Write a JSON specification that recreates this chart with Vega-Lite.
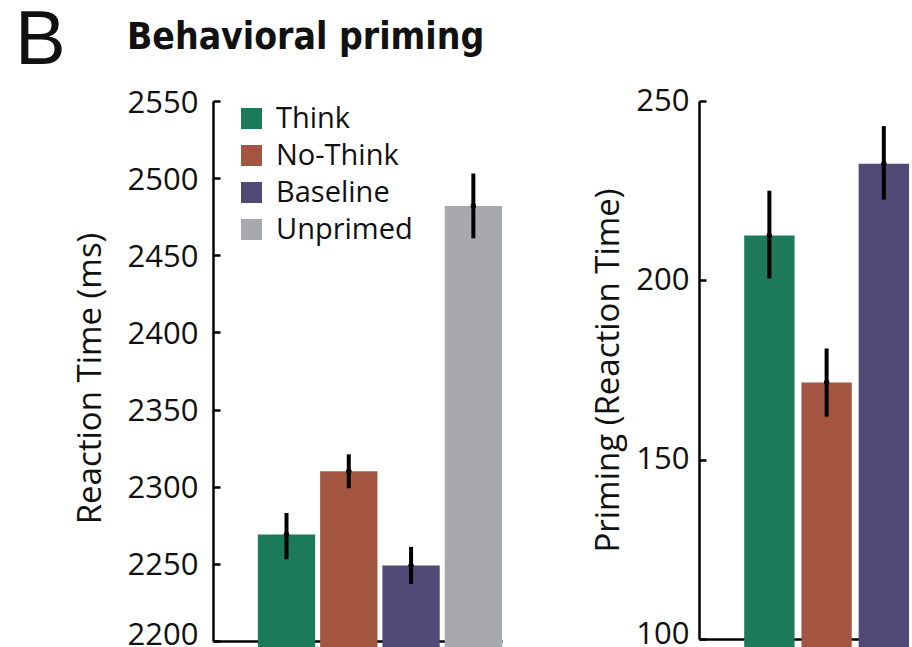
{
  "$schema": "https://vega.github.io/schema/vega-lite/v6.json",
  "background": "white",
  "padding": {"left": 15, "top": 3, "right": 0, "bottom": 0},
  "config": {"view": {"stroke": null}, "font": "Open Sans"},
  "resolve": {"legend": {"color": "independent"}},
  "bounds": "flush",
  "spacing": 197,
  "hconcat": [
    {
      "width": 289,
      "height": 540,
      "title": {"text": "B", "anchor": "start", "frame": "group", "dx": -198, "offset": -53, "baseline": "alphabetic", "fontSize": 76, "font": "Liberation Sans", "fontWeight": "normal", "color": "#111"},
      "data": {"values": [
        {"condition": "Think", "rt": 2269, "lo": 2253, "hi": 2283},
        {"condition": "No-Think", "rt": 2310, "lo": 2299, "hi": 2321},
        {"condition": "Baseline", "rt": 2249, "lo": 2237, "hi": 2261},
        {"condition": "Unprimed", "rt": 2482, "lo": 2461, "hi": 2503}
      ]},
      "layer": [
        {
          "mark": {"type": "bar"},
          "encoding": {
            "x": {"field": "condition", "type": "nominal", "sort": ["Think", "No-Think", "Baseline", "Unprimed"],
                  "scale": {"paddingInner": 0.08, "paddingOuter": 0.36, "align": 1},
                  "axis": {"labels": false, "ticks": false, "title": null, "domainWidth": 2.5, "domainColor": "#000"}},
            "y": {"field": "rt", "type": "quantitative",
                  "scale": {"domain": [2200, 2550], "zero": false, "nice": false},
                  "axis": {"title": "Reaction Time (ms)", "values": [2200, 2250, 2300, 2350, 2400, 2450, 2500, 2550], "format": "d",
                           "tickSize": -7, "tickWidth": 2.5, "tickColor": "#000", "domainWidth": 2.5, "domainColor": "#000",
                           "labelFontSize": 31, "labelPadding": 22, "labelColor": "#111", "labelFont": "Open Sans",
                           "labelOffset": {"condition": {"test": "datum.value == 2200", "value": -6}, "value": 2},
                           "titleFontSize": 33, "titleFontWeight": "normal", "titlePadding": 20, "titleColor": "#111", "titleFont": "Open Sans",
                           "titleY": 277,
                           "grid": false}},
            "color": {"field": "condition", "type": "nominal",
                      "scale": {"domain": ["Think", "No-Think", "Baseline", "Unprimed"], "range": ["#1c7a5a", "#a35541", "#514a77", "#a7a9ac"]},
                      "legend": {"orient": "none", "legendX": 24, "legendY": 3, "title": null, "symbolType": "square", "symbolSize": 441,
                                 "symbolStrokeWidth": 0, "symbolOpacity": 1, "labelFontSize": 29, "labelFont": "Open Sans", "labelColor": "#111",
                                 "rowPadding": 7, "labelOffset": 10}}
          }
        },
        {
          "mark": {"type": "rule", "strokeWidth": 4, "color": "#000"},
          "encoding": {
            "x": {"field": "condition", "type": "nominal", "sort": ["Think", "No-Think", "Baseline", "Unprimed"]},
            "y": {"field": "lo", "type": "quantitative"},
            "y2": {"field": "hi"}
          }
        },
        {
          "mark": {"type": "point", "filled": true, "color": "#000", "size": 30, "opacity": 1},
          "encoding": {
            "x": {"field": "condition", "type": "nominal", "sort": ["Think", "No-Think", "Baseline", "Unprimed"]},
            "y": {"field": "rt", "type": "quantitative"}
          }
        }
      ]
    },
    {
      "width": 210,
      "height": 538,
      "title": {"text": "Behavioral priming", "anchor": "start", "frame": "group", "dx": -572, "offset": -1, "baseline": "alphabetic", "fontSize": 37, "font": "'DejaVu Sans Condensed', 'Liberation Sans Narrow', Roboto, sans-serif", "fontWeight": "bold", "color": "#111"},
      "data": {"values": [
        {"condition": "Think", "priming": 212.5, "lo": 200.5, "hi": 225},
        {"condition": "No-Think", "priming": 171.5, "lo": 162, "hi": 181},
        {"condition": "Baseline", "priming": 232.5, "lo": 222.5, "hi": 243}
      ]},
      "layer": [
        {
          "mark": {"type": "bar"},
          "encoding": {
            "x": {"field": "condition", "type": "nominal", "sort": ["Think", "No-Think", "Baseline"],
                  "scale": {"paddingInner": 0.12, "paddingOuter": 0.395, "align": 1},
                  "axis": {"labels": false, "ticks": false, "title": null, "domainWidth": 2.5, "domainColor": "#000"}},
            "y": {"field": "priming", "type": "quantitative",
                  "scale": {"domain": [100, 250], "zero": false, "nice": false},
                  "axis": {"title": "Priming (Reaction Time)", "values": [100, 150, 200, 250], "format": "d",
                           "tickSize": -7, "tickWidth": 2.5, "tickColor": "#000", "domainWidth": 2.5, "domainColor": "#000",
                           "labelFontSize": 31, "labelPadding": 17, "labelColor": "#111", "labelFont": "Open Sans",
                           "labelOffset": {"condition": {"test": "datum.value == 100", "value": -5}, "value": 0},
                           "titleFontSize": 33, "titleFontWeight": "normal", "titlePadding": 10, "titleColor": "#111", "titleFont": "Open Sans",
                           "grid": false}},
            "color": {"field": "condition", "type": "nominal",
                      "scale": {"domain": ["Think", "No-Think", "Baseline", "Unprimed"], "range": ["#1c7a5a", "#a35541", "#514a77", "#a7a9ac"]},
                      "legend": null}
          }
        },
        {
          "mark": {"type": "rule", "strokeWidth": 4, "color": "#000"},
          "encoding": {
            "x": {"field": "condition", "type": "nominal", "sort": ["Think", "No-Think", "Baseline"]},
            "y": {"field": "lo", "type": "quantitative"},
            "y2": {"field": "hi"}
          }
        },
        {
          "mark": {"type": "point", "filled": true, "color": "#000", "size": 30, "opacity": 1},
          "encoding": {
            "x": {"field": "condition", "type": "nominal", "sort": ["Think", "No-Think", "Baseline"]},
            "y": {"field": "priming", "type": "quantitative"}
          }
        }
      ]
    }
  ]
}
